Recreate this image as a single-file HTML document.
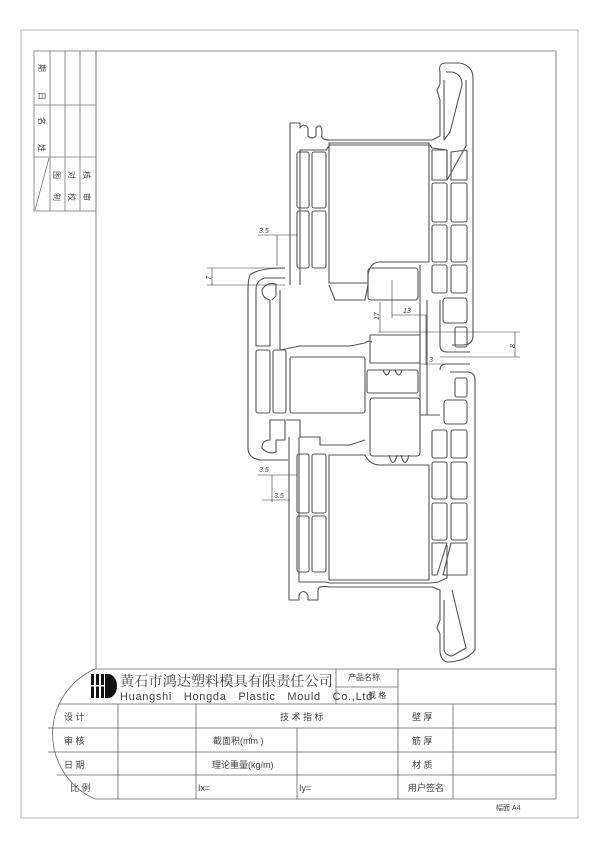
<!DOCTYPE html>
<html><head><meta charset="utf-8"><style>
html,body{margin:0;padding:0;background:#fff;}
svg{display:block;}
text{font-family:"Liberation Sans","Noto Sans CJK SC",sans-serif;fill:#444;}
.s{font-family:"Liberation Serif","Noto Serif CJK SC",serif;}
</style></head><body>
<svg width="600" height="849" viewBox="0 0 600 849" xmlns="http://www.w3.org/2000/svg">
<g fill="none" stroke="#888" stroke-width="0.8">
<rect x="21" y="30" width="557" height="788" stroke="#aaa"/>
<line x1="96" y1="51" x2="556" y2="51" stroke="#666"/>
<line x1="556" y1="51" x2="556" y2="799" stroke="#666"/>
<line x1="96" y1="51" x2="96" y2="669" stroke="#666"/>
<g stroke="#777">
<rect x="34" y="51" width="62" height="160"/>
<line x1="50" y1="51" x2="50" y2="211"/><line x1="65" y1="51" x2="65" y2="211"/><line x1="80" y1="51" x2="80" y2="211"/>
<line x1="34" y1="105" x2="96" y2="105"/><line x1="34" y1="157" x2="96" y2="157"/>
<line x1="35" y1="210" x2="49" y2="158"/>
</g>
<g stroke="#666">
<path d="M95,669 A71,71 0 0 0 95,799"/>
<line x1="95" y1="669" x2="556" y2="669"/>
<line x1="58" y1="704" x2="556" y2="704"/>
<line x1="48" y1="728" x2="556" y2="728"/>
<line x1="48" y1="752" x2="556" y2="752"/>
<line x1="57" y1="775" x2="556" y2="775"/>
<line x1="95" y1="799" x2="556" y2="799"/>
<line x1="118" y1="704" x2="118" y2="799"/>
<line x1="196" y1="704" x2="196" y2="799"/>
<line x1="297" y1="728" x2="297" y2="799"/>
<line x1="398" y1="669" x2="398" y2="799"/>
<line x1="453" y1="704" x2="453" y2="799"/>
<line x1="336" y1="669" x2="336" y2="704"/>
<line x1="336" y1="687" x2="398" y2="687"/>
</g>
</g>
<g fill="#111">
<rect x="91" y="674" width="3" height="24"/><rect x="96" y="674" width="3" height="24"/>
<rect x="101" y="674" width="3" height="24"/>
<path d="M105,674 h3 a9,12 0 0 1 0,24 h-3z"/>
<rect x="90" y="685" width="15" height="1.5" fill="#fff"/>
</g>
<g fill="none" stroke="#555" stroke-width="1.1" stroke-linejoin="round">
<path d="M290,285 V123 H300 V128 Q304,122 308,128 V136 Q312,140 316,136 V128 Q322,122 322,134 Q320,140 330,140 L432,140 L440,136 V100 L437,90 L440,84 V72 Q438,63 446,63 H460 Q473,66 473,78 V335 Q473,345 463,345 H452"/>
<path d="M300,285 V150 H326 L330,145 H430 L432,148 L447,150 V180"/>
<path d="M444,80 V140 L450,132 L462,85 Q462,74 452,72 H446"/>
<path d="M466,80 V146 L447,180"/>
<rect x="297" y="152" width="12" height="56" rx="2"/><rect x="312" y="152" width="14" height="56" rx="2"/>
<rect x="297" y="211" width="12" height="57" rx="2"/><rect x="312" y="211" width="14" height="57" rx="2"/>
<path d="M329,143 H429 V262 H380 Q370,262 368,275 V283 H329 Z"/>
<path d="M432,150 L447,150 L447,180 H432 Z"/><path d="M451,152 L467,150 V180 H451 Z"/>
<rect x="432" y="183" width="15" height="39" rx="2"/><rect x="451" y="183" width="16" height="39" rx="2"/>
<rect x="432" y="225" width="15" height="37" rx="2"/><rect x="451" y="225" width="16" height="37" rx="2"/>
<rect x="432" y="265" width="15" height="28" rx="2"/><rect x="451" y="265" width="16" height="28" rx="2"/>
<rect x="443" y="298" width="24" height="25" rx="3"/><rect x="455" y="327" width="12" height="20" rx="2"/>
<path d="M329,285 L335,300 H365 L368,285"/>
<path d="M285,268 Q258,268 250,275 Q248,280 248,290 V448 Q248,458 260,460 H288"/>
<path d="M256,290 Q256,280 265,278 H285"/>
<path d="M256,290 V346 H270 V300 Q262,298 262,290 Q266,282 276,284 V296 L272,300"/>
<rect x="256" y="350" width="14" height="63" rx="2"/><rect x="273" y="350" width="13" height="63" rx="2"/>
<rect x="290" y="357" width="75" height="56" rx="2"/>
<path d="M280,290 V350 Q290,348 300,346 H350 L365,343 Q368,340 372,342"/>
<path d="M270,420 V440 Q262,440 262,448 Q268,455 276,452 V440 H285 V420 Z"/>
<path d="M286,420 H300 V437 H320 V445 H350 L365,440"/>
<rect x="368" y="268" width="50" height="32" rx="3"/>
<path d="M370,335 H420 V363 H370 Z"/>
<rect x="367" y="370" width="51" height="23" rx="2"/>
<path d="M383,370 Q387,380 390,370 M395,370 Q399,380 402,370"/>
<rect x="370" y="398" width="50" height="58" rx="3"/>
<path d="M420,265 V415 H440"/><path d="M427,300 V415"/>
<path d="M440,300 V345 Q440,352 447,352 H470"/>
<path d="M440,370 Q440,364 447,364 H470"/>
<path d="M289,437 V600 H299 V595 Q303,588 308,595 V600 H318 V590 Q318,585 330,587 L432,587 L440,590 V620 L437,628 L440,634 V650 Q440,660 447,662 Q465,662 475,650 V380 Q475,372 467,372 H450"/>
<path d="M299,437 V582 H326 L330,583 H430 L438,582 L447,578 V545"/>
<path d="M444,600 V650 Q446,656 452,656 L466,648 L452,590"/>
<rect x="297" y="454" width="12" height="59" rx="2"/><rect x="312" y="454" width="14" height="59" rx="2"/>
<rect x="297" y="516" width="12" height="56" rx="2"/><rect x="312" y="516" width="14" height="56" rx="2"/>
<path d="M329,455 H365 Q370,465 380,465 H429 V580 H329 Z"/>
<rect x="455" y="378" width="12" height="19" rx="2"/><rect x="444" y="400" width="23" height="24" rx="3"/>
<rect x="432" y="430" width="15" height="28" rx="2"/><rect x="451" y="430" width="16" height="28" rx="2"/>
<rect x="432" y="462" width="15" height="37" rx="2"/><rect x="451" y="462" width="16" height="37" rx="2"/>
<rect x="432" y="503" width="15" height="37" rx="2"/><rect x="451" y="503" width="16" height="37" rx="2"/>
<path d="M432,543 H447 L437,575 H432 Z"/><path d="M451,543 H467 V575 H443 Z"/>
<path d="M389,455 Q393,470 397,455 M401,455 Q405,470 409,455"/>
</g>
<g stroke="#333" stroke-width="0.6" fill="none">
<line x1="258" y1="235" x2="297" y2="235"/><line x1="277" y1="235" x2="277" y2="266"/>
<line x1="207" y1="268" x2="285" y2="268"/><line x1="207" y1="285" x2="285" y2="285"/><line x1="212" y1="268" x2="212" y2="285"/>
<line x1="380" y1="302" x2="380" y2="332"/><line x1="378" y1="332" x2="520" y2="332"/>
<line x1="392" y1="280" x2="392" y2="318"/><line x1="392" y1="315" x2="426" y2="315"/><line x1="426" y1="315" x2="426" y2="365"/>
<line x1="440" y1="357" x2="520" y2="357"/><line x1="515" y1="332" x2="515" y2="357"/>
<line x1="420" y1="364" x2="445" y2="364"/>
<line x1="258" y1="475" x2="297" y2="475"/><line x1="272" y1="475" x2="272" y2="502"/>
<line x1="262" y1="500" x2="290" y2="500"/>
</g>
<g font-size="7" font-style="italic">
<text x="259" y="233">3.5</text>
<text x="205" y="280" transform="rotate(-90 208 277)">7</text>
<text x="373" y="320" transform="rotate(-90 376 317)">17</text>
<text x="403" y="313">13</text>
<text x="509" y="348" transform="rotate(-90 512 345)">8</text>
<text x="429" y="362">3</text>
<text x="259" y="472">3.5</text>
<text x="274" y="498">3.5</text>
</g>
<g font-size="8" fill="#555">
<text transform="translate(39,64) rotate(90)">期</text>
<text transform="translate(39,92) rotate(90)">日</text>
<text transform="translate(39,117) rotate(90)">名</text>
<text transform="translate(39,144) rotate(90)">姓</text>
<text transform="translate(54,171) rotate(90)">图</text>
<text transform="translate(54,193) rotate(90)">制</text>
<text transform="translate(69,171) rotate(90)">对</text>
<text transform="translate(69,193) rotate(90)">校</text>
<text transform="translate(84,171) rotate(90)">核</text>
<text transform="translate(84,193) rotate(90)">审</text>
</g>
<text class="s" x="120" y="686" font-size="14.2" fill="#333">黄石市鸿达塑料模具有限责任公司</text>
<text x="120" y="700" font-size="11" fill="#333" letter-spacing="0.7" word-spacing="8">Huangshi Hongda Plastic Mould Co.,Ltd</text>
<text x="348" y="680" font-size="8">产品名称</text>
<text x="368" y="698" font-size="8">规   格</text>
<g font-size="9" fill="#444">
<text x="64" y="720">设   计</text>
<text x="64" y="744">审   核</text>
<text x="64" y="768">日   期</text>
<text x="70" y="791">比   例</text>
<text x="280" y="720">技 术 指 标</text>
<text x="213" y="744">截面积(mm  )</text>
<text x="249" y="739" font-size="6">2</text>
<text x="212" y="768">理论重量(kg/m)</text>
<text x="198" y="791">Ix=</text>
<text x="299" y="791">Iy=</text>
<text x="412" y="720">壁 厚</text>
<text x="412" y="744">筋 厚</text>
<text x="412" y="768">材 质</text>
<text x="408" y="791">用户签名</text>
</g>
<text x="496" y="810" font-size="7" fill="#555">幅面 A4</text>
</svg>
</body></html>
